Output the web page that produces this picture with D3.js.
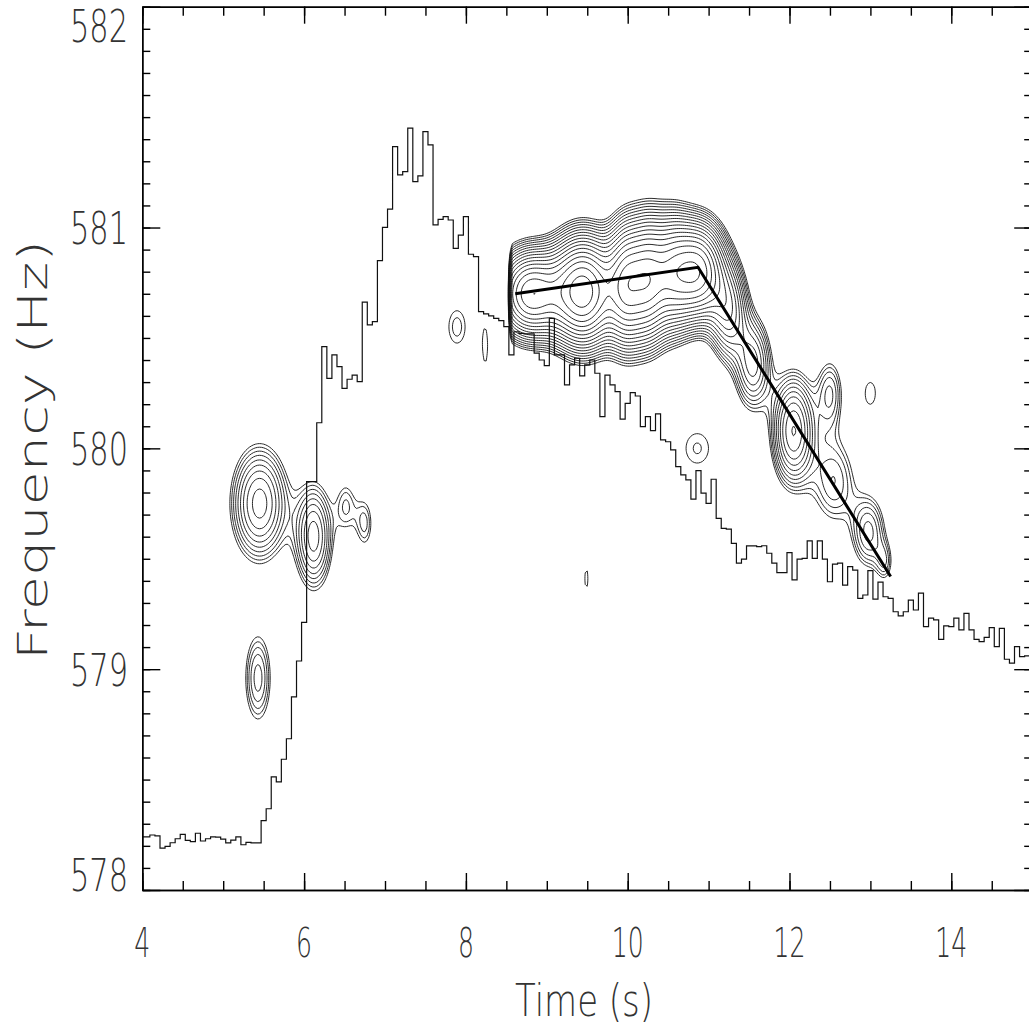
<!DOCTYPE html>
<html>
<head>
<meta charset="utf-8">
<script src="https://cdn.jsdelivr.net/npm/d3@7"></script>
<style>
  body { margin: 0; background: #fff; }
  svg { display: block; }
  .lbl { font-family: "DejaVu Sans", sans-serif; font-weight: 200; fill: #333; }
</style>
</head>
<body>
<svg id="chart" width="1029" height="1035"></svg>
<script>
// frequency track: one value every 1/16 s starting at t = 4 s
const trackStart = 4;
const trackStep = 1 / 16;
const trackFreq = [
  578.241, 578.241, 578.249, 578.245, 578.190, 578.198, 578.214, 578.232, 578.252, 578.225,
  578.219, 578.257, 578.222, 578.232, 578.241, 578.239, 578.230, 578.213, 578.226, 578.241,
  578.205, 578.216, 578.213, 578.213, 578.314, 578.368, 578.512, 578.490, 578.592, 578.685,
  578.875, 579.037, 579.212, 579.849, 579.849, 580.116, 580.461, 580.317, 580.423, 580.370,
  580.272, 580.313, 580.332, 580.302, 580.662, 580.559, 580.574, 580.850, 581.001, 581.083,
  581.366, 581.238, 581.253, 581.450, 581.208, 581.234, 581.434, 581.374, 581.012, 581.037,
  581.049, 581.034, 580.906, 580.966, 581.049, 580.879, 580.868, 580.619, 580.609, 580.600,
  580.589, 580.578, 580.551, 580.423, 580.528, 580.521, 580.518, 580.518, 580.431, 580.400,
  580.375, 580.589, 580.423, 580.423, 580.287, 580.378, 580.408, 580.328, 580.378, 580.400,
  580.340, 580.144, 580.332, 580.287, 580.257, 580.132, 580.204, 580.252, 580.237, 580.098,
  580.144, 580.080, 580.156, 580.038, 580.030, 579.993, 579.917, 579.880, 579.857, 579.770,
  579.899, 579.797, 579.751, 579.860, 579.683, 579.638, 579.634, 579.570, 579.480, 579.498,
  579.558, 579.558, 579.555, 579.559, 579.525, 579.480, 579.437, 579.437, 579.528, 579.404,
  579.498, 579.502, 579.581, 579.502, 579.581, 579.498, 579.396, 579.476, 579.480, 579.381,
  579.464, 579.449, 579.321, 579.336, 579.446, 579.317, 579.394, 579.328, 579.321, 579.260,
  579.241, 579.260, 579.313, 579.268, 579.344, 579.193, 579.231, 579.223, 579.135, 579.196,
  579.193, 579.231, 579.178, 579.253, 579.178, 579.135, 579.125, 579.144, 579.188, 579.102,
  579.185, 579.045, 579.027, 579.102, 579.057, 579.060, 579.060
];

// broken-line drift model
const modelTime = [8.61, 10.87, 13.25];
const modelFreq = [580.70, 580.82, 579.42];

// power components of the dynamic spectrum (centre, widths, peak, start time)
const blobTime  = [8.80, 9.45, 9.98, 10.25, 10.55, 10.88,
                   11.25, 11.55, 12.05, 12.50, 12.55, 12.98, 13.18,
                   5.45, 6.12, 6.52, 6.75, 5.43, 7.89, 8.24, 9.49, 10.86, 13.00];
const blobFreq  = [580.70, 580.71, 580.74, 580.76, 580.79, 580.80,
                   580.62, 580.38, 580.08, 580.25, 579.85, 579.62, 579.48,
                   579.75, 579.60, 579.74, 579.66, 578.96, 580.55, 580.46, 579.41, 580.00, 580.25];
const blobSigT  = [0.25, 0.25, 0.15, 0.15, 0.17, 0.20,
                   0.15, 0.15, 0.17, 0.12, 0.20, 0.15, 0.08,
                   0.23, 0.157, 0.10, 0.09, 0.13, 0.15, 0.057, 0.046, 0.235, 0.14];
const blobSigF  = [0.12, 0.15, 0.17, 0.17, 0.16, 0.135,
                   0.14, 0.14, 0.16, 0.12, 0.15, 0.12, 0.07,
                   0.17, 0.163, 0.10, 0.10, 0.16, 0.11, 0.14, 0.092, 0.113, 0.11];
const blobAmp   = [9, 12, 8, 8, 7, 10,
                   4, 3, 4.5, 1.8, 1.8, 2.2, 1.2,
                   3.58, 3.08, 1.3, 1.4, 1.96, 1.25, 1.1, 1.1, 1.19, 1.1];
const blobStart = [8.5, 8.5, 8.5, 8.5, 8.5, 8.5,
                   4, 4, 4, 4, 4, 4, 4,
                   4, 4, 4, 4, 4, 4, 4, 4, 4, 4];

const xTicks = [4, 6, 8, 10, 12, 14];
const yTicks = [578, 579, 580, 581, 582];

const plotLeft = 142.3, plotRight = 1032.2, plotTop = 6.7, plotBottom = 890;

const svg = d3.select("#chart");

const x = d3.scaleLinear().domain([4, 15]).range([plotLeft, plotRight]);
const y = d3.scaleLinear().domain([578, 582]).range([plotBottom, plotTop]);

// ---- contour grid
const nt = 441, nf = 401;
const dt = 11 / (nt - 1), df = 4 / (nf - 1);
const grid = new Float64Array(nt * nf);
for (let j = 0; j < nf; j++) {
  const f = 578 + j * df;
  for (let i = 0; i < nt; i++) {
    const t = 4 + i * dt;
    let p = 0;
    for (let b = 0; b < blobTime.length; b++) {
      const u = (t - blobTime[b]) / blobSigT[b];
      const v = (f - blobFreq[b]) / blobSigF[b];
      let g = blobAmp[b] * Math.exp(-0.5 * (u * u + v * v));
      if (blobStart[b] > 4) {
        const r = Math.max(0, Math.min(1, (t - blobStart[b]) / 0.08));
        g *= r * r * (3 - 2 * r);
      }
      p += g;
    }
    grid[j * nt + i] = p;
  }
}
const levelStep = 0.15;
const levels = d3.range(0, 26).map(n => Math.exp(n * levelStep));
const contours = d3.contours().size([nt, nf]).thresholds(levels)(grid);

const toPx = d3.geoTransform({
  point: function (gx, gy) {
    this.stream.point(x(4 + (gx - 0.5) * dt), y(578 + (gy - 0.5) * df));
  }
});
const cpath = d3.geoPath(toPx);

svg.append("g")
  .selectAll("path")
  .data(contours)
  .join("path")
  .attr("d", cpath)
  .attr("fill", "none")
  .attr("stroke", "#111")
  .attr("stroke-width", 0.9);

// ---- frequency track (histogram style)
const track = trackFreq.map((f, k) => [trackStart + k * trackStep, f]);
svg.append("path")
  .datum(track)
  .attr("fill", "none")
  .attr("stroke", "#111")
  .attr("stroke-width", 1.2)
  .attr("d", d3.line().curve(d3.curveStep).x(d => x(d[0])).y(d => y(d[1])));

// ---- model line
svg.append("path")
  .datum(modelTime.map((t, i) => [t, modelFreq[i]]))
  .attr("fill", "none")
  .attr("stroke", "#000")
  .attr("stroke-width", 3)
  .attr("d", d3.line().x(d => x(d[0])).y(d => y(d[1])));

// ---- axes, ticks inside the frame
const xMinor = d3.range(4, 15.01, 0.5);
const yMinor = d3.range(578, 582.001, 0.1);

function styleAxis(g) {
  g.selectAll("path,line").attr("stroke", "#000").attr("stroke-width", 1.4);
  g.selectAll("text").remove();
}

svg.append("g").attr("transform", `translate(0,${plotBottom})`)
  .call(d3.axisBottom(x).tickValues(xMinor).tickSize(-9).tickSizeOuter(0)).call(styleAxis);
svg.append("g").attr("transform", `translate(0,${plotBottom})`)
  .call(d3.axisBottom(x).tickValues(xTicks).tickSize(-17).tickSizeOuter(0)).call(styleAxis);
svg.append("g").attr("transform", `translate(0,${plotTop})`)
  .call(d3.axisTop(x).tickValues(xMinor).tickSize(-9).tickSizeOuter(0)).call(styleAxis);
svg.append("g").attr("transform", `translate(0,${plotTop})`)
  .call(d3.axisTop(x).tickValues(xTicks).tickSize(-17).tickSizeOuter(0)).call(styleAxis);

svg.append("g").attr("transform", `translate(${plotLeft},0)`)
  .call(d3.axisLeft(y).tickValues(yMinor).tickSize(-8).tickSizeOuter(0)).call(styleAxis);
svg.append("g").attr("transform", `translate(${plotLeft},0)`)
  .call(d3.axisLeft(y).tickValues(yTicks).tickSize(-18).tickSizeOuter(0)).call(styleAxis);
svg.append("g").attr("transform", `translate(${plotRight},0)`)
  .call(d3.axisRight(y).tickValues(yMinor).tickSize(-8).tickSizeOuter(0)).call(styleAxis);
svg.append("g").attr("transform", `translate(${plotRight},0)`)
  .call(d3.axisRight(y).tickValues(yTicks).tickSize(-18).tickSizeOuter(0)).call(styleAxis);

// ---- tick labels
svg.append("g").selectAll("text")
  .data(xTicks)
  .join("text")
  .attr("class", "lbl")
  .attr("x", d => x(d))
  .attr("y", 957)
  .attr("font-size", 41)
  .attr("text-anchor", "middle")
  .attr("textLength", d => String(d).length * 16)
  .attr("lengthAdjust", "spacingAndGlyphs")
  .text(d => d);

svg.append("g").selectAll("text")
  .data(yTicks)
  .join("text")
  .attr("class", "lbl")
  .attr("x", 128)
  .attr("y", d => Math.max(plotTop + 19, Math.min(plotBottom - 16, y(d))) + 16.5)
  .attr("font-size", 44)
  .attr("text-anchor", "end")
  .attr("textLength", 58)
  .attr("lengthAdjust", "spacingAndGlyphs")
  .text(d => d);

// ---- axis titles
svg.append("text")
  .attr("class", "lbl")
  .attr("transform", `translate(47,450) rotate(-90)`)
  .attr("font-size", 41)
  .attr("text-anchor", "middle")
  .attr("textLength", 420)
  .attr("lengthAdjust", "spacingAndGlyphs")
  .text("Frequency (Hz)");

svg.append("text")
  .attr("class", "lbl")
  .attr("x", 584)
  .attr("y", 1016)
  .attr("font-size", 45)
  .attr("text-anchor", "middle")
  .attr("textLength", 138)
  .attr("lengthAdjust", "spacingAndGlyphs")
  .text("Time (s)");
</script>
</body>
</html>
